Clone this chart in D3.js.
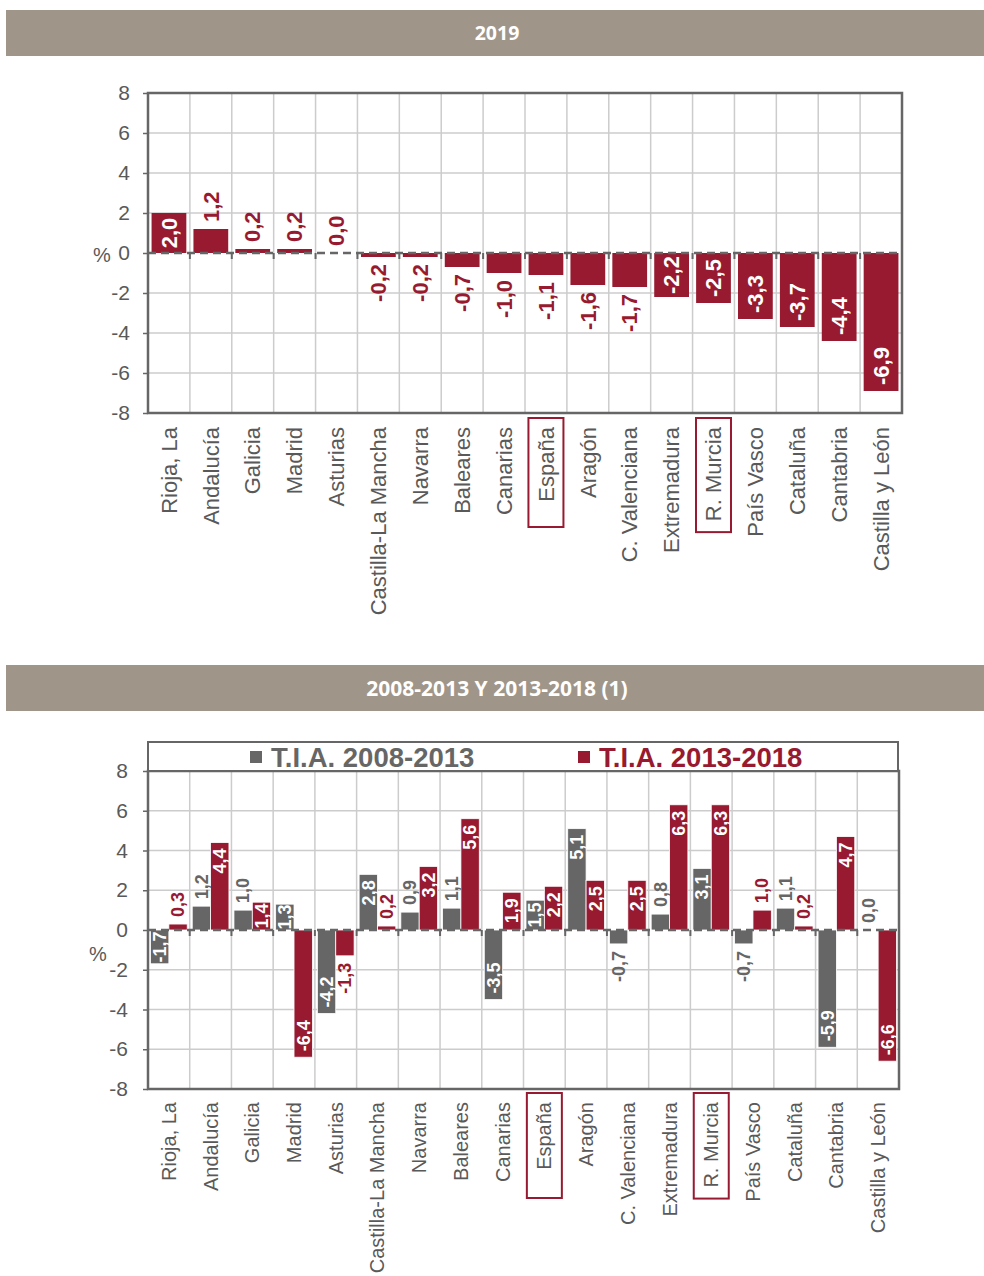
<!DOCTYPE html>
<html>
<head>
<meta charset="utf-8">
<script src="https://cdn.jsdelivr.net/npm/d3@7.9.0/dist/d3.min.js"></script>
<style>
  html, body { margin: 0; padding: 0; background: #fff; }
  svg { display: block; font-family: "Liberation Sans", Arial, sans-serif; }
</style>
</head>
<body>
<svg id="chart" width="984" height="1276"></svg>
<script>
// categories (same order in both charts)
const regions = ["Rioja, La", "Andalucía", "Galicia", "Madrid", "Asturias", "Castilla-La Mancha",
  "Navarra", "Baleares", "Canarias", "España", "Aragón", "C. Valenciana", "Extremadura",
  "R. Murcia", "País Vasco", "Cataluña", "Cantabria", "Castilla y León"];

// 2019 growth (%)
const values2019 = [2.0, 1.2, 0.2, 0.2, 0.0, -0.2, -0.2, -0.7, -1.0, -1.1, -1.6, -1.7, -2.2, -2.5, -3.3, -3.7, -4.4, -6.9];

// T.I.A. (annual growth rate)
const tia0813 = [-1.7, 1.2, 1.0, 1.3, -4.2, 2.8, 0.9, 1.1, -3.5, 1.5, 5.1, -0.7, 0.8, 3.1, -0.7, 1.1, -5.9, 0.0];
const tia1318 = [0.3, 4.4, 1.4, -6.4, -1.3, 0.2, 3.2, 5.6, 1.9, 2.2, 2.5, 2.5, 6.3, 6.3, 1.0, 0.2, 4.7, -6.6];

const yTicks = [-8, -6, -4, -2, 0, 2, 4, 6, 8];
const highlighted = ["España", "R. Murcia"];

const RED = "#971a30";
const GRAY = "#666666";
const TXT = "#595959";
const HEAD = "#a09589";

const svg = d3.select("#chart");
const fmt = v => v.toFixed(1).replace(".", ",");

// header band
function header(y, h, label, size) {
  svg.append("rect").attr("x", 6).attr("y", y).attr("width", 978).attr("height", h).attr("fill", HEAD);
  svg.append("text")
    .attr("x", 497).attr("y", y + h / 2)
    .attr("dy", "0.36em")
    .attr("text-anchor", "middle")
    .attr("fill", "#fff")
    .style("font-family", "'Open Sans', sans-serif")
    .style("font-weight", 700)
    .style("font-size", size + "px")
    .text(label);
}

// frame: grid, axes, labels
function frame(cfg) {
  const { x, y, left, right, top, bottom } = cfg;
  const g = svg.append("g");

  // horizontal grid
  g.selectAll(".hg").data(yTicks.filter(t => t !== 0)).enter().append("line")
    .attr("x1", left).attr("x2", right)
    .attr("y1", d => y(d)).attr("y2", d => y(d))
    .attr("stroke", "#cccccc").attr("stroke-width", 1.5);

  // vertical grid at band boundaries
  g.selectAll(".vg").data(regions.slice(1)).enter().append("line")
    .attr("x1", d => x(d)).attr("x2", d => x(d))
    .attr("y1", top).attr("y2", bottom)
    .attr("stroke", "#cccccc").attr("stroke-width", 1.5);

  // y tick labels (plain hyphen for negatives)
  const yAxis = d3.axisLeft(y).tickValues(yTicks).tickSize(5).tickFormat(d => String(d));
  const ya = svg.append("g").attr("transform", `translate(${left},0)`).call(yAxis);
  ya.select(".domain").remove();
  ya.selectAll(".tick line").attr("stroke", GRAY).attr("stroke-width", 1.5);
  ya.selectAll(".tick text")
    .attr("x", -cfg.tickGap)
    .attr("fill", TXT)
    .style("font-family", "'Liberation Sans', Arial, sans-serif")
    .style("font-size", "21px");

  svg.append("text")
    .attr("x", cfg.pctX).attr("y", cfg.pctY)
    .attr("text-anchor", "middle")
    .attr("fill", TXT)
    .style("font-size", "20px")
    .text("%");

  // category labels
  const cats = svg.append("g");
  cats.selectAll("text").data(regions).enter().append("text")
    .attr("transform", d => `translate(${x(d) + x.bandwidth() / 2},${bottom + cfg.catGap}) rotate(-90)`)
    .attr("text-anchor", "end")
    .attr("dy", "0.35em")
    .attr("fill", TXT)
    .style("font-size", cfg.catSize + "px")
    .text(d => d);

  // boxes round España and R. Murcia
  cats.selectAll("text").filter(d => highlighted.includes(d)).each(function (d) {
    const len = this.getComputedTextLength();
    const y0 = bottom + cfg.boxTop;
    const y1 = Math.max(bottom + cfg.catGap + len + 11, bottom + cfg.boxMin);
    const cx = x(d) + x.bandwidth() / 2;
    cats.append("rect")
      .attr("x", cx - 17.5).attr("y", y0)
      .attr("width", 35).attr("height", y1 - y0)
      .attr("fill", "none").attr("stroke", RED).attr("stroke-width", 2);
  });
}

function finish(cfg) {
  const { x, y, left, right, top, bottom } = cfg;
  // zero line dashed + small ticks under it
  svg.append("line")
    .attr("x1", left).attr("x2", right)
    .attr("y1", y(0)).attr("y2", y(0))
    .attr("stroke", GRAY).attr("stroke-width", 2.5)
    .attr("stroke-dasharray", "8,5");
  svg.append("g").selectAll("line").data(regions.slice(1)).enter().append("line")
    .attr("x1", d => x(d)).attr("x2", d => x(d))
    .attr("y1", y(0)).attr("y2", y(0) + 6)
    .attr("stroke", GRAY).attr("stroke-width", 2);
  // plot border
  svg.append("rect")
    .attr("x", left).attr("y", top)
    .attr("width", right - left).attr("height", bottom - top)
    .attr("fill", "none").attr("stroke", GRAY).attr("stroke-width", 2.5);
}

// value label: inside end when it fits, otherwise outside end
function valueLabel(g, cx, v, y, color, size, slack) {
  const t = g.append("text")
    .attr("dy", "0.35em")
    .style("font-size", size + "px")
    .style("font-weight", 700)
    .text(fmt(v));
  const len = t.node().getComputedTextLength();
  const barLen = Math.abs(y(v) - y(0));
  let py, anchor, fill;
  if (len <= barLen + slack) {
    const pad = Math.max(0, Math.min(6, (barLen - len) / 2));
    fill = "#fff";
    if (v >= 0) { py = y(v) + pad; anchor = "end"; }
    else { py = y(v) - pad; anchor = "start"; }
  } else {
    fill = color;
    if (v >= 0) { py = y(v) - 7; anchor = "start"; }
    else { py = y(v) + 7; anchor = "end"; }
  }
  t.attr("transform", `translate(${cx},${py}) rotate(-90)`)
    .attr("text-anchor", anchor)
    .attr("fill", fill);
}

// ---------- chart 1: 2019 ----------
header(10, 46, "2019", 19.5);

const c1 = { left: 148, right: 902, top: 93, bottom: 413, tickGap: 18, pctX: 102, pctY: 262,
  catGap: 14, catSize: 22, boxTop: 5, boxMin: 114 };
c1.x = d3.scaleBand().domain(regions).range([c1.left, c1.right]);
c1.y = d3.scaleLinear().domain([-8, 8]).range([c1.bottom, c1.top]);
frame(c1);

const bars1 = svg.append("g");
const bw1 = c1.x.bandwidth();
bars1.selectAll("rect").data(regions).enter().append("rect")
  .attr("x", d => c1.x(d) + bw1 * 0.085)
  .attr("width", bw1 * 0.83)
  .attr("y", (d, i) => c1.y(Math.max(0, values2019[i])))
  .attr("height", (d, i) => Math.abs(c1.y(values2019[i]) - c1.y(0)))
  .attr("fill", RED);
finish(c1);
const lab1 = svg.append("g");
regions.forEach((r, i) => valueLabel(lab1, c1.x(r) + bw1 / 2, values2019[i], c1.y, RED, 22, -1));

// ---------- chart 2: T.I.A. ----------
header(665, 46, "2008-2013 Y 2013-2018 (1)", 21);

const c2 = { left: 148, right: 899, top: 771, bottom: 1089, tickGap: 20, pctX: 98, pctY: 961,
  catGap: 13, catSize: 20, boxTop: 4, boxMin: 109 };
c2.x = d3.scaleBand().domain(regions).range([c2.left, c2.right]);
c2.y = d3.scaleLinear().domain([-8, 8]).range([c2.bottom, c2.top]);
frame(c2);

const bw2 = c2.x.bandwidth();
const sub = d3.scaleBand().domain(["a", "b"]).range([0, bw2 * 0.88]);
const series = [
  { key: "a", vals: tia0813, color: GRAY, name: "T.I.A. 2008-2013" },
  { key: "b", vals: tia1318, color: RED, name: "T.I.A. 2013-2018" }
];
const bars2 = svg.append("g");
series.forEach(s => {
  bars2.append("g").selectAll("rect").data(regions).enter().append("rect")
    .attr("x", d => c2.x(d) + bw2 * 0.06 + sub(s.key))
    .attr("width", sub.bandwidth())
    .attr("y", (d, i) => c2.y(Math.max(0, s.vals[i])))
    .attr("height", (d, i) => Math.abs(c2.y(s.vals[i]) - c2.y(0)))
    .attr("fill", s.color)
    .attr("stroke", "#fff").attr("stroke-width", 0.8);
});
finish(c2);
const lab2 = svg.append("g");
series.forEach(s => {
  regions.forEach((r, i) => {
    valueLabel(lab2, c2.x(r) + bw2 * 0.06 + sub(s.key) + sub.bandwidth() / 2, s.vals[i], c2.y, s.color, 18, 0.6);
  });
});

// legend box
const leg = svg.append("g");
leg.append("rect")
  .attr("x", 148).attr("y", 742).attr("width", 750).attr("height", 29)
  .attr("fill", "#fff").attr("stroke", GRAY).attr("stroke-width", 2);
const legX = [250, 578];
series.forEach((s, i) => {
  leg.append("rect").attr("x", legX[i]).attr("y", 751).attr("width", 12).attr("height", 12).attr("fill", s.color);
  leg.append("text")
    .attr("x", legX[i] + 21).attr("y", 767)
    .attr("fill", s.color)
    .style("font-size", "27.5px").style("font-weight", 700)
    .text(s.name);
});
</script>
</body>
</html>
